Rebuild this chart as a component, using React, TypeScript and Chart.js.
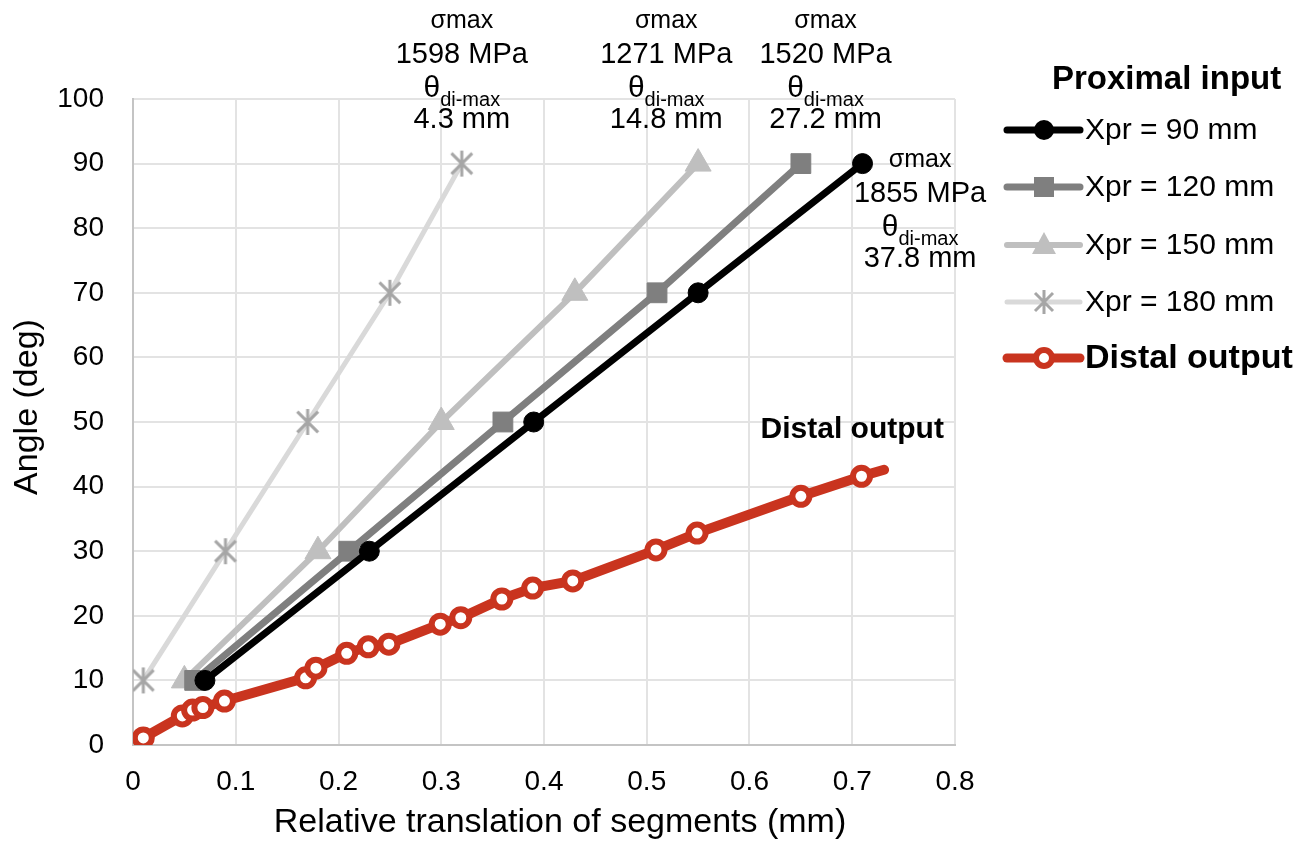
import React, { useEffect, useRef } from 'react';
import { Chart, registerables } from 'chart.js';

Chart.register(...registerables);

const FONT = '"Liberation Sans", Arial, Helvetica, sans-serif';

// ---- data ----
const xTickLabels = ['0', '0.1', '0.2', '0.3', '0.4', '0.5', '0.6', '0.7', '0.8'];

const xpr90X = [0.07, 0.23, 0.39, 0.55, 0.71];
const xpr90Y = [10, 30, 50, 70, 90];
const xpr120X = [0.06, 0.21, 0.36, 0.51, 0.65];
const xpr120Y = [10, 30, 50, 70, 90];
const xpr150X = [0.05, 0.18, 0.30, 0.43, 0.55];
const xpr150Y = [10, 30, 50, 70, 90];
const xpr180X = [0.01, 0.09, 0.17, 0.25, 0.32];
const xpr180Y = [10, 30, 50, 70, 90];

const distalX = [0.01, 0.048, 0.058, 0.068, 0.089, 0.168, 0.178, 0.208, 0.229, 0.249, 0.299, 0.319, 0.359, 0.389, 0.428, 0.509, 0.549, 0.65, 0.709, 0.731];
const distalY = [1.1, 4.5, 5.4, 5.8, 6.8, 10.4, 11.9, 14.2, 15.2, 15.6, 18.7, 19.7, 22.6, 24.3, 25.4, 30.2, 32.8, 38.5, 41.6, 42.6];

const legendLabels = ['Xpr = 90 mm', 'Xpr = 120 mm', 'Xpr = 150 mm', 'Xpr = 180 mm'];
const legendHeader = 'Proximal input';
const distalLabel = 'Distal output';
const yTitle = 'Angle (deg)';
const xTitle = 'Relative translation of segments (mm)';

const annX = [0.32, 0.519, 0.674, 0.766];
const annStress = ['1598 MPa', '1271 MPa', '1520 MPa', '1855 MPa'];
const annDisp = ['4.3 mm', '14.8 mm', '27.2 mm', '37.8 mm'];

const C90 = '#000000';
const C120 = '#7f7f7f';
const C150 = '#bfbfbf';
const C180L = '#d9d9d9';
const C180M = '#a6a6a6';
const CRED = '#c9341f';

function pts(xs: number[], ys: number[]) {
  return xs.map((x, i) => ({ x, y: ys[i] }));
}

function makeStar(size: number, color: string, lw: number) {
  const c = document.createElement('canvas');
  c.width = size;
  c.height = size;
  const g = c.getContext('2d')!;
  g.strokeStyle = color;
  g.lineWidth = lw;
  g.lineCap = 'butt';
  const m = size / 2;
  const r = size / 2 - 1;
  const d = r * 0.8;
  g.beginPath();
  g.moveTo(m, m - r); g.lineTo(m, m + r);
  g.moveTo(m - d, m - d); g.lineTo(m + d, m + d);
  g.moveTo(m + d, m - d); g.lineTo(m - d, m + d);
  g.stroke();
  return c;
}

const overlayPlugin = {
  id: 'overlay',
  beforeDraw(chart: any) {
    const ctx = chart.ctx;
    ctx.save();
    ctx.fillStyle = '#ffffff';
    ctx.fillRect(0, 0, chart.width, chart.height);
    ctx.restore();
  },
  afterDraw(chart: any) {
    const ctx = chart.ctx as CanvasRenderingContext2D;
    const xs = chart.scales.x;
    const ys = chart.scales.y;
    const top = chart.chartArea.top;
    ctx.save();
    ctx.fillStyle = '#000';
    ctx.textBaseline = 'alphabetic';

    // y axis title
    ctx.save();
    ctx.translate(28, 407);
    ctx.rotate(-Math.PI / 2);
    ctx.textAlign = 'center';
    ctx.textBaseline = 'middle';
    ctx.font = `34px ${FONT}`;
    ctx.fillText(yTitle, 0, 0);
    ctx.restore();

    // x axis title
    ctx.textAlign = 'center';
    ctx.font = `34px ${FONT}`;
    ctx.fillText(xTitle, 560, 832);

    // annotations
    annX.forEach((xv, i) => {
      const cx = xs.getPixelForValue(xv);
      const base = i < 3 ? top - 71 : top + 68;
      ctx.textAlign = 'center';
      ctx.font = `25px ${FONT}`;
      ctx.fillText('\u03C3max', cx, base);
      ctx.font = `29px ${FONT}`;
      ctx.fillText(annStress[i], cx, base + 35);
      ctx.font = `30px ${FONT}`;
      const wT = ctx.measureText('\u03B8').width;
      ctx.font = `20px ${FONT}`;
      const wS = ctx.measureText('di-max').width;
      const sx = cx - (wT + wS) / 2;
      ctx.textAlign = 'left';
      ctx.font = `30px ${FONT}`;
      ctx.fillText('\u03B8', sx, base + 69);
      ctx.font = `20px ${FONT}`;
      ctx.fillText('di-max', sx + wT, base + 78);
      ctx.textAlign = 'center';
      ctx.font = `29px ${FONT}`;
      ctx.fillText(annDisp[i], cx, base + 100);
    });

    // "Distal output" label in plot
    ctx.textAlign = 'center';
    ctx.font = `bold 30px ${FONT}`;
    ctx.fillText(distalLabel, xs.getPixelForValue(0.70), ys.getPixelForValue(47.5));

    // legend
    ctx.textAlign = 'left';
    ctx.font = `bold 33px ${FONT}`;
    ctx.fillText(legendHeader, 1052, 89);

    const rows = [130, 187, 245, 302, 358];
    const lx0 = 1007, lx1 = 1080, mx = 1044, tx = 1085;
    const lineCols = [C90, C120, C150, C180L, CRED];
    const lineW = [7, 7, 6, 5, 9];
    rows.forEach((ry, i) => {
      ctx.strokeStyle = lineCols[i];
      ctx.lineWidth = lineW[i];
      ctx.lineCap = 'round';
      ctx.beginPath();
      ctx.moveTo(lx0, ry);
      ctx.lineTo(lx1, ry);
      ctx.stroke();
      ctx.lineCap = 'butt';
      if (i === 0) {
        ctx.fillStyle = C90;
        ctx.beginPath(); ctx.arc(mx, ry, 10, 0, Math.PI * 2); ctx.fill();
      } else if (i === 1) {
        ctx.fillStyle = C120;
        ctx.fillRect(mx - 10, ry - 10, 20, 20);
      } else if (i === 2) {
        ctx.fillStyle = C150;
        ctx.beginPath();
        ctx.moveTo(mx, ry - 13); ctx.lineTo(mx + 12, ry + 9); ctx.lineTo(mx - 12, ry + 9); ctx.closePath(); ctx.fill();
      } else if (i === 3) {
        ctx.strokeStyle = C180M; ctx.lineWidth = 3;
        ctx.beginPath();
        ctx.moveTo(mx, ry - 12); ctx.lineTo(mx, ry + 12);
        ctx.moveTo(mx - 9, ry - 9); ctx.lineTo(mx + 9, ry + 9);
        ctx.moveTo(mx + 9, ry - 9); ctx.lineTo(mx - 9, ry + 9);
        ctx.stroke();
      } else {
        ctx.fillStyle = '#fff';
        ctx.strokeStyle = CRED; ctx.lineWidth = 6;
        ctx.beginPath(); ctx.arc(mx, ry, 8, 0, Math.PI * 2); ctx.fill(); ctx.stroke();
      }
      ctx.fillStyle = '#000';
      ctx.textBaseline = 'middle';
      if (i < 4) {
        ctx.font = `30px ${FONT}`;
        ctx.fillText(legendLabels[i], tx, ry + 1);
      } else {
        ctx.font = `bold 34px ${FONT}`;
        ctx.fillText(distalLabel, tx, ry + 1);
      }
      ctx.textBaseline = 'alphabetic';
    });
    ctx.restore();
  },
};

export default function App() {
  const ref = useRef<HTMLCanvasElement | null>(null);
  useEffect(() => {
    document.body.style.margin = '0';
    const canvas = ref.current!;
    const star = makeStar(28, C180M, 3);
    const distalRadius = distalX.map((_, i) => (i === distalX.length - 1 ? 0 : 8.5));
    const chart = new Chart(canvas, {
      type: 'scatter',
      data: {
        datasets: [
          {
            label: distalLabel,
            data: pts(distalX, distalY),
            showLine: true,
            borderColor: CRED,
            backgroundColor: '#ffffff',
            borderWidth: 10,
            pointRadius: distalRadius,
            pointBorderWidth: 6,
            pointBorderColor: CRED,
            pointBackgroundColor: '#ffffff',
            borderCapStyle: 'round',
          },
          {
            label: legendLabels[0],
            data: pts(xpr90X, xpr90Y),
            showLine: true,
            borderColor: C90,
            backgroundColor: C90,
            borderWidth: 7,
            pointStyle: 'circle',
            pointRadius: 10,
            pointBorderWidth: 1,
          },
          {
            label: legendLabels[1],
            data: pts(xpr120X, xpr120Y),
            showLine: true,
            borderColor: C120,
            backgroundColor: C120,
            borderWidth: 7,
            pointStyle: 'rect',
            pointRadius: 14,
            pointBorderWidth: 1,
          },
          {
            label: legendLabels[2],
            data: pts(xpr150X, xpr150Y),
            showLine: true,
            borderColor: C150,
            backgroundColor: C150,
            borderWidth: 6,
            pointStyle: 'triangle',
            pointRadius: 15,
            pointBorderWidth: 1,
          },
          {
            label: legendLabels[3],
            data: pts(xpr180X, xpr180Y),
            showLine: true,
            borderColor: C180L,
            backgroundColor: C180M,
            borderWidth: 5,
            pointStyle: star as any,
            pointRadius: 13,
          },
        ],
      },
      options: {
        animation: false,
        responsive: false,
        maintainAspectRatio: false,
        layout: { padding: { top: 99, right: 350, left: 0, bottom: 0 } },
        plugins: {
          legend: { display: false },
          tooltip: { enabled: false },
        },
        scales: {
          x: {
            type: 'linear',
            min: 0,
            max: 0.8,
            afterFit: (s: any) => { s.height = 96; },
            afterBuildTicks: (s: any) => {
              s.ticks = xTickLabels.map((_, i) => ({ value: i / 10 }));
            },
            ticks: {
              callback: (_v: any, i: number) => xTickLabels[i],
              color: '#000',
              font: { family: FONT, size: 28 },
              padding: 20,
              maxRotation: 0,
            },
            grid: { color: '#e3e3e3', lineWidth: 2, drawTicks: false },
            border: { color: '#c4c4c4', width: 2 },
            title: { display: false },
          },
          y: {
            type: 'linear',
            min: 0,
            max: 100,
            afterFit: (s: any) => { s.width = 133; },
            ticks: {
              stepSize: 10,
              color: '#000',
              font: { family: FONT, size: 28 },
              padding: 29,
            },
            grid: { color: '#e3e3e3', lineWidth: 2, drawTicks: false },
            border: { color: '#c4c4c4', width: 2 },
            title: { display: false },
          },
        },
      },
      plugins: [overlayPlugin],
    } as any);
    return () => chart.destroy();
  }, []);
  return (
    <div style={{ width: 1305, height: 841 }}>
      <canvas ref={ref} width={1305} height={841} style={{ display: 'block' }} />
    </div>
  );
}
